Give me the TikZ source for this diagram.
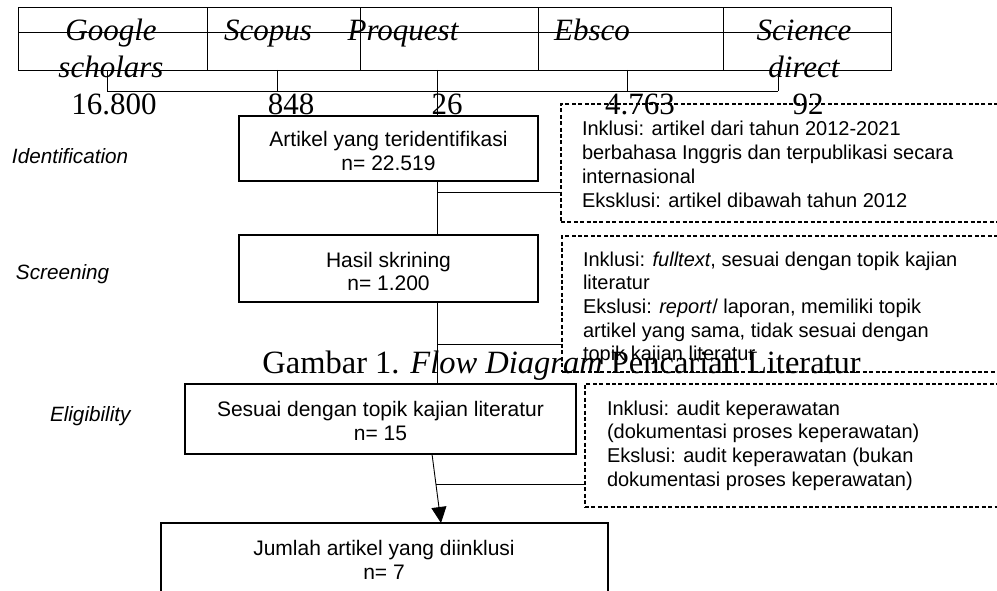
\documentclass[tikz,border=0pt]{standalone}
\usepackage{fontspec}
\setmainfont{Liberation Serif}
\setsansfont{Liberation Sans}
\usetikzlibrary{arrows.meta,calc}
\newcommand\mylines[2][l]{\begin{tabular}[t]{@{}#1@{}}#2\end{tabular}}
\begin{document}
\begin{tikzpicture}[x=1pt,y=-1pt,
  solidbox/.style={draw, line width=1.6pt, inner sep=0pt, outer sep=0pt, anchor=north west},
  dashbox/.style={draw, line width=1.2pt, dash pattern=on 4pt off 2.4pt, inner sep=0pt, outer sep=0pt, anchor=north west},
  cell/.style={draw, line width=0.9pt, inner sep=0pt, outer sep=0pt, anchor=north west, minimum height=63pt},
  conn/.style={line width=0.9pt},
  sanstxt/.style={font=\sffamily\fontsize{21}{24}\selectfont, inner sep=0pt, outer sep=0pt},
  dashtxt/.style={font=\sffamily\fontsize{20}{23.7}\selectfont, inner sep=0pt, outer sep=0pt, anchor=base west},
  lbl/.style={font=\sffamily\itshape\fontsize{20.7}{24}\selectfont, inner sep=0pt, outer sep=0pt, anchor=base west},
  serif/.style={font=\rmfamily\fontsize{31}{37}\selectfont, inner sep=0pt, outer sep=0pt, anchor=base},
  serifit/.style={font=\rmfamily\itshape\fontsize{31}{37}\selectfont, inner sep=0pt, outer sep=0pt, anchor=base},
]
\useasboundingbox (0,0) rectangle (997,591);
\clip (0,0) rectangle (997,591);
\fill[white] (0,0) rectangle (997,591);

% table of sources
\node[cell, minimum width=189pt] (cG) at (18,7) {};
\node[cell, minimum width=153pt] (cS) at (207,7) {};
\node[cell, minimum width=178pt] (cP) at (360,7) {};
\node[cell, minimum width=185pt] (cE) at (538,7) {};
\node[cell, minimum width=168pt] (cD) at (723,7) {};
\coordinate (mL) at (18,32);
\coordinate (mR) at (891,32);
\draw[conn] (mL) -- (mR);

\node[serifit] (tG) at (111,41) {\mylines[c]{Google\\scholars}};
\node[serifit] (tS) at (268,41) {Scopus};
\node[serifit] (tP) at (403,41) {Proquest};
\node[serifit] (tE) at (592,41) {Ebsco};
\node[serifit] (tD) at (804,41) {\mylines[c]{Science\\direct}};

\node[serif] (nG) at (114,115) {16.800};
\node[serif] (nS) at (291,115) {848};
\node[serif] (nP) at (447,115) {26};
\node[serif] (nE) at (640,115) {4.763};
\node[serif] (nD) at (808,115) {92};

% boxes
\node[solidbox, minimum width=299pt, minimum height=65pt] (b1) at (239,116) {};
\node[solidbox, minimum width=299pt, minimum height=67pt] (b2) at (239,235) {};
\node[solidbox, minimum width=391pt, minimum height=70pt] (b3) at (185,384) {};
\node[solidbox, minimum width=447pt, minimum height=90pt] (b4) at (161,523) {};

\node[dashbox, minimum width=470pt, minimum height=118pt] (d1) at (561,104) {};
\node[dashbox, minimum width=470pt, minimum height=136pt] (d2) at (562,236) {};
\node[dashbox, minimum width=450pt, minimum height=123pt] (d3) at (585,384) {};

% tree below table
\coordinate (g1) at (107,91);
\coordinate (s1) at (277,91);
\coordinate (e1) at (627,91);
\coordinate (x1) at (778,91);
\coordinate (tk) at (437,0);
\draw[conn] (cG.south -| g1) -- (g1);
\draw[conn] (cS.south -| s1) -- (s1);
\draw[conn] (cE.south -| e1) -- (e1);
\draw[conn] (cD.south -| x1) -- (x1);
\draw[conn] (g1) -- (x1);
\draw[conn] (cP.south -| tk) -- (b1.north -| tk);

% flow connectors
\coordinate (j1) at (437,192);
\coordinate (j2) at (437,344);
\coordinate (j3) at (436,484);
\coordinate (a0) at (432,0);
\coordinate (a1) at (441,0);
\draw[conn] (b1.south -| tk) -- (b2.north -| tk);
\draw[conn] (j1) -- (d1.west |- j1);
\draw[conn] (b2.south -| tk) -- (b3.north -| tk);
\draw[conn] (j2) -- (d2.west |- j2);
\draw[conn, -{Triangle[length=16pt,width=15pt]}] (b3.south -| a0) -- (b4.north -| a1);
\draw[conn] (j3) -- (d3.west |- j3);

% box texts
\node[sanstxt, anchor=base] (t1) at (388.5,147) {\mylines[c]{Artikel yang teridentifikasi\\n= 22.519}};
\node[sanstxt, anchor=base] (t2) at (388.5,267) {\mylines[c]{Hasil skrining\\n= 1.200}};
\node[sanstxt, anchor=base] (t3) at (380.5,416) {\mylines[c]{Sesuai dengan topik kajian literatur\\n= 15}};
\node[sanstxt, anchor=base] (t4) at (384,555) {\mylines[c]{Jumlah artikel yang diinklusi\\n= 7}};

\node[dashtxt] (e1t) at (582,136) {\mylines{Inklusi: artikel dari tahun 2012-2021\\berbahasa Inggris dan terpublikasi secara\\internasional\\Eksklusi: artikel dibawah tahun 2012}};
\node[dashtxt] (e2t) at (583,266) {\mylines{Inklusi: \textit{fulltext}, sesuai dengan topik kajian\\literatur\\Ekslusi: \textit{report}/ laporan, memiliki topik\\artikel yang sama, tidak sesuai dengan\\topik kajian literatur}};
\node[dashtxt] (e3t) at (607,415) {\mylines{Inklusi: audit keperawatan\\(dokumentasi proses keperawatan)\\Ekslusi: audit keperawatan (bukan\\dokumentasi proses keperawatan)}};

% stage labels
\node[lbl] (l1) at (12,164) {Identification};
\node[lbl] (l2) at (16,279) {Screening};
\node[lbl] (l3) at (50,421) {Eligibility};

% caption
\node[font=\rmfamily\fontsize{32.5}{37}\selectfont, inner sep=0pt, anchor=base east] (cap) at (861,373) {Gambar 1. \textit{Flow Diagram} Pencarian Literatur};
\end{tikzpicture}
\end{document}
